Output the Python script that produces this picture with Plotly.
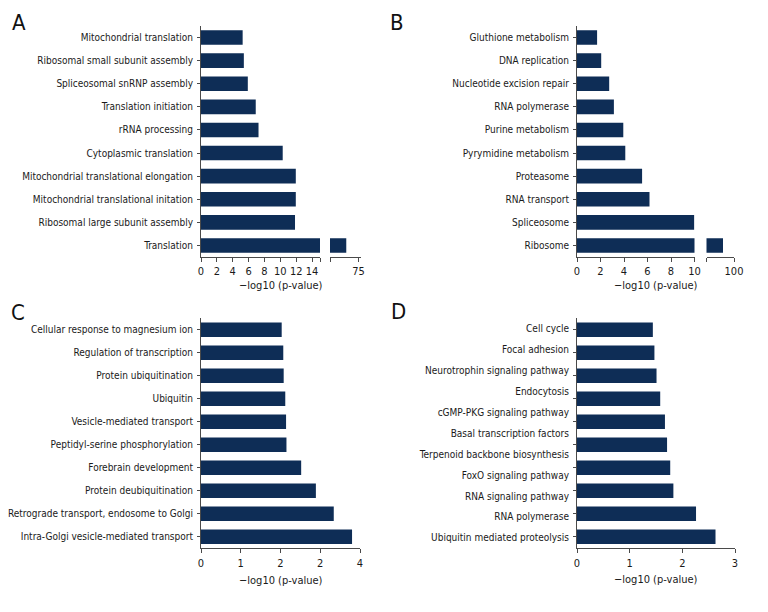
import plotly.graph_objects as go

# ---------------- data ----------------
a_terms = ["Mitochondrial translation", "Ribosomal small subunit assembly", "Spliceosomal snRNP assembly",
           "Translation initiation", "rRNA processing", "Cytoplasmic translation",
           "Mitochondrial translational elongation", "Mitochondrial translational initation",
           "Ribosomal large subunit assembly", "Translation"]
a_values = [5.25, 5.4, 5.9, 6.9, 7.25, 10.3, 11.95, 11.95, 11.85, 69.0]

b_terms = ["Gluthione metabolism", "DNA replication", "Nucleotide excision repair", "RNA polymerase",
           "Purine metabolism", "Pyrymidine metabolism", "Proteasome", "RNA transport",
           "Spliceosome", "Ribosome"]
b_values = [1.71, 2.06, 2.74, 3.14, 3.94, 4.11, 5.54, 6.17, 9.98, 92.0]

c_terms = ["Cellular response to magnesium ion", "Regulation of transcription", "Protein ubiquitination",
           "Ubiquitin", "Vesicle-mediated transport", "Peptidyl-serine phosphorylation",
           "Forebrain development", "Protein deubiquitination", "Retrograde transport, endosome to Golgi",
           "Intra-Golgi vesicle-mediated transport"]
c_values = [2.03, 2.07, 2.08, 2.12, 2.14, 2.15, 2.52, 2.89, 3.34, 3.80]

d_terms = ["Cell cycle", "Focal adhesion", "Neurotrophin signaling pathway", "Endocytosis",
           "cGMP-PKG signaling pathway", "Basal transcription factors", "Terpenoid backbone biosynthesis",
           "FoxO signaling pathway", "RNA signaling pathway", "RNA polymerase",
           "Ubiquitin mediated proteolysis"]
d_values = [1.44, 1.47, 1.51, 1.58, 1.67, 1.71, 1.77, 1.83, 2.26, 2.63]

a_ticks1 = [0, 2, 4, 6, 8, 10, 12, 14, 15]
a_ticktext1 = ["0", "2", "4", "6", "8", "10", "12", "14", ""]
a_ticks2 = [61, 75]
a_ticktext2 = ["", "75"]
b_ticks1 = [0, 2, 4, 6, 8, 10]
b_ticks2 = [80, 100]
b_ticktext2 = ["", "100"]
c_ticks = [0, 1, 2, 3, 4]
c_ticktext = ["0", "1", "2", "2", "4"]
d_ticks = [0, 1, 2, 3]
x_title = "\u2212log10 (p-value)"
panel_letters = ["A", "B", "C", "D"]

# ---------------- style ----------------
OFF = 8                     # page body margin
W, H = 768 - OFF, 612 - OFF
FONT = "DejaVu Sans Condensed, Liberation Sans Narrow, sans-serif"
BAR = "#0e2d56"
LINE = "#4a4a4a"
TXT = "#1a1a1a"
BW = 0.63
FS = 10
FSN = 11

def px(x0, x1):
    return [(x0 - OFF) / W, (x1 - OFF) / W]

def py(top, bottom):
    return [(H - (bottom - OFF)) / H, (H - (top - OFF)) / H]

fig = go.Figure()

def bars(x, y, xa, ya):
    fig.add_trace(go.Bar(x=x, y=y, orientation="h", marker=dict(color=BAR, line=dict(width=0)),
                         width=BW, xaxis=xa, yaxis=ya, hoverinfo="skip", showlegend=False))

bars(a_values, a_terms, "x", "y")
bars(a_values, a_terms, "x2", "y2")
bars(b_values, b_terms, "x3", "y3")
bars(b_values, b_terms, "x4", "y4")
bars(c_values, c_terms, "x5", "y5")
bars(d_values, list(range(len(d_values))), "x6", "y6")
# invisible carrier for panel D labels
fig.add_trace(go.Scatter(x=[0] * len(d_terms), y=d_terms, mode="markers", marker=dict(opacity=0),
                         xaxis="x6", yaxis="y7", hoverinfo="skip", showlegend=False))

tickfont = dict(family=FONT, size=FS, color=TXT)
numfont = dict(family=FONT, size=FSN, color=TXT)

def xax(domain, rng, anchor, tickvals, ticktext=None):
    d = dict(domain=domain, range=rng, anchor=anchor, showline=True, linecolor=LINE, linewidth=1,
             ticks="outside", ticklen=4, tickcolor=LINE, tickwidth=1, tickvals=tickvals, tickangle=0,
             showgrid=False, zeroline=False, tickfont=numfont, fixedrange=True, automargin=False)
    if ticktext is not None:
        d["ticktext"] = ticktext
    return d

def yax_cat(domain, anchor, cats, labels=True, line=True):
    return dict(domain=domain, anchor=anchor, type="category", categoryorder="array", categoryarray=cats,
                range=[len(cats) - 0.5, -0.5], showline=line, linecolor=LINE, linewidth=1,
                ticks="outside" if labels else "", ticklen=3, tickcolor=LINE, showticklabels=labels,
                showgrid=False, zeroline=False, tickfont=tickfont, fixedrange=True, ticklabelstandoff=2,
                automargin=False)

yA = py(26, 257)
yC = py(318.3, 548.3)

fig.update_layout(
    xaxis=xax(px(201, 320), [0, 15], "y", a_ticks1, a_ticktext1),
    xaxis2=xax(px(330, 360.5), [61, 76], "y2", a_ticks2, a_ticktext2),
    xaxis3=xax(px(577, 694.5), [0, 10], "y3", b_ticks1),
    xaxis4=xax(px(706.5, 734), [80, 100], "y4", b_ticks2, b_ticktext2),
    xaxis5=xax(px(201, 360), [0, 4], "y5", c_ticks, c_ticktext),
    xaxis6=xax(px(577, 735), [0, 3], "y6", d_ticks),
    yaxis=yax_cat(yA, "x", a_terms),
    yaxis2=yax_cat(yA, "x2", a_terms, labels=False, line=False),
    yaxis3=yax_cat(yA, "x3", b_terms),
    yaxis4=yax_cat(yA, "x4", b_terms, labels=False, line=False),
    yaxis5=yax_cat(yC, "x5", c_terms),
    yaxis6=dict(domain=yC, anchor="x6", range=[len(d_values) - 0.5, -0.5], showline=True, linecolor=LINE,
                linewidth=1, ticks="outside", ticklen=3, tickcolor=LINE, tickvals=list(range(len(d_values))),
                showticklabels=False, showgrid=False, zeroline=False, fixedrange=True, automargin=False),
    yaxis7=dict(domain=yC, anchor="x6", overlaying="y6", side="left", type="category",
                categoryorder="array", categoryarray=d_terms, range=[len(d_terms) - 0.5, -0.5],
                showline=False, ticks="outside", ticklen=3, tickcolor="rgba(0,0,0,0)",
                showgrid=False, zeroline=False, tickfont=tickfont, fixedrange=True, ticklabelstandoff=2,
                automargin=False),
    width=W, height=H, margin=dict(l=0, r=0, t=0, b=0, autoexpand=False),
    paper_bgcolor="white", plot_bgcolor="white", bargap=0.37,
    font=dict(family=FONT, color=TXT),
)

ann = []
for xc, yc in [(280.5, 285), (655.5, 285), (280.5, 580), (656, 579)]:
    ann.append(dict(text=x_title, x=(xc - OFF) / W, y=(H - (yc - OFF)) / H, xref="paper", yref="paper",
                    xanchor="center", yanchor="middle", showarrow=False,
                    font=dict(family=FONT, size=FSN, color=TXT)))
for letter, (xc, yc) in zip(panel_letters, [(19, 22.5), (397, 22.5), (17.5, 312), (398, 311)]):
    ann.append(dict(text=letter, x=(xc - OFF) / W, y=(H - (yc - OFF)) / H, xref="paper", yref="paper",
                    xanchor="center", yanchor="middle", showarrow=False,
                    font=dict(family=FONT, size=22, color="#111")))
fig.update_layout(annotations=ann)

fig.write_html("out.html")
